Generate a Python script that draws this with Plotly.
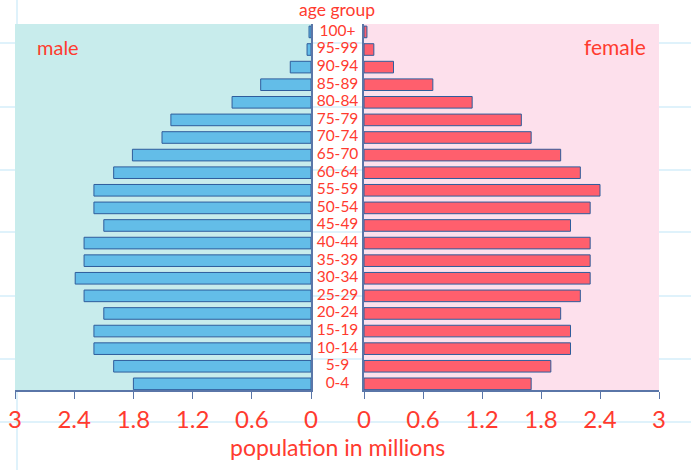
import plotly.graph_objects as go

age_groups = ["0-4", "5-9", "10-14", "15-19", "20-24", "25-29", "30-34", "35-39",
              "40-44", "45-49", "50-54", "55-59", "60-64", "65-70", "70-74", "75-79",
              "80-84", "85-89", "90-94", "95-99", "100+"]
male = [1.80, 2.00, 2.20, 2.20, 2.10, 2.30, 2.39, 2.30, 2.30, 2.10, 2.20, 2.20,
        2.00, 1.81, 1.51, 1.42, 0.80, 0.51, 0.21, 0.04, 0.02]
female = [1.70, 1.90, 2.10, 2.10, 2.00, 2.20, 2.30, 2.30, 2.30, 2.10, 2.30, 2.40,
          2.20, 2.00, 1.70, 1.60, 1.10, 0.70, 0.30, 0.10, 0.03]
tick_vals = [0, 0.6, 1.2, 1.8, 2.4, 3]
tick_text = ["0", "0.6", "1.2", "1.8", "2.4", "3"]

RED = "#ff3b2f"
AXC = "#5a76a8"
FONT = "Lato"
W, H = 691, 470
ML, MR, MT, MB = 15, 32, 24, 80
PW, PH = W - ML - MR, H - MT - MB


def px_x(x):
    return (x - ML) / PW


def px_y(y):
    return (H - MB - y) / PH


fig = go.Figure()
fig.add_trace(go.Bar(y=age_groups, x=male, orientation="h", xaxis="x", yaxis="y",
                     marker=dict(color="#63bde8", line=dict(color="#2f5d9c", width=1)),
                     showlegend=False, hoverinfo="x+y"))
fig.add_trace(go.Scatter(y=age_groups, x=[0] * len(age_groups), mode="text",
                         text=age_groups, xaxis="x2", yaxis="y2",
                         textfont=dict(color=RED, size=15.5, family=FONT),
                         showlegend=False, hoverinfo="skip"))
fig.add_trace(go.Bar(y=age_groups, x=female, orientation="h", xaxis="x3", yaxis="y3",
                     marker=dict(color="#ff5f6d", line=dict(color="#2f5d9c", width=1)),
                     showlegend=False, hoverinfo="x+y"))

d1 = [0, px_x(311)]
d2 = [px_x(311), px_x(364)]
d3 = [px_x(364), 1]
yr = [-0.35, 20.45]

xcommon = dict(tickvals=tick_vals, ticktext=tick_text, ticks="outside", ticklen=7,
               tickcolor=AXC, tickwidth=1.2, showline=True, linecolor=AXC, linewidth=1.5,
               showgrid=False, zeroline=False, automargin=False,
               tickfont=dict(color=RED, size=24, family=FONT))
fig.update_layout(
    width=W, height=H,
    margin=dict(l=ML, r=MR, t=MT, b=MB, autoexpand=False),
    paper_bgcolor="white", plot_bgcolor="rgba(0,0,0,0)",
    bargap=0.34,
    xaxis=dict(domain=d1, range=[3, 0], anchor="y", **xcommon),
    yaxis=dict(range=yr, side="right", showticklabels=False, showline=True,
               linecolor=AXC, linewidth=1.5, showgrid=False, zeroline=False, ticks="",
               automargin=False),
    xaxis2=dict(domain=d2, range=[-1, 1], visible=False, anchor="y2"),
    yaxis2=dict(range=yr, visible=False, anchor="x2"),
    xaxis3=dict(domain=d3, range=[0, 3], anchor="y3", **xcommon),
    yaxis3=dict(range=yr, anchor="x3", side="left", showticklabels=False, showline=True,
                linecolor=AXC, linewidth=1.5, showgrid=False, zeroline=False, ticks="",
                automargin=False),
)

shapes = []
# graph-paper lines
for yy in [43, 107, 170, 232, 296, 359, 422]:
    shapes.append(dict(type="line", xref="paper", yref="paper", x0=px_x(0), x1=px_x(W),
                       y0=px_y(yy), y1=px_y(yy), line=dict(color="#d4eefa", width=1.5),
                       layer="below"))
shapes.append(dict(type="line", xref="paper", yref="paper", x0=px_x(17), x1=px_x(17),
                   y0=px_y(H), y1=px_y(0), line=dict(color="#d4eefa", width=1.5),
                   layer="below"))
# panel backgrounds
shapes.append(dict(type="rect", xref="x domain", yref="y domain", x0=0, x1=1, y0=0, y1=1,
                   fillcolor="#c8ecec", line=dict(width=0), layer="below"))
shapes.append(dict(type="rect", xref="x3 domain", yref="y3 domain", x0=0, x1=1, y0=0, y1=1,
                   fillcolor="#fde0ec", line=dict(width=0), layer="below"))
fig.update_layout(shapes=shapes)

ann = [
    dict(text="age group", x=0.5, y=px_y(10)),
    dict(text="male", x=px_x(58), y=px_y(47)),
    dict(text="female", x=px_x(615), y=px_y(47)),
    dict(text="population in millions", x=0.5, y=px_y(447)),
]
sizes = [17.5, 20, 21, 23]
for a, s in zip(ann, sizes):
    a.update(xref="paper", yref="paper", xanchor="center", yanchor="middle",
             showarrow=False, font=dict(color=RED, size=s, family=FONT))
fig.update_layout(annotations=ann)

fig.write_html("out.html")
